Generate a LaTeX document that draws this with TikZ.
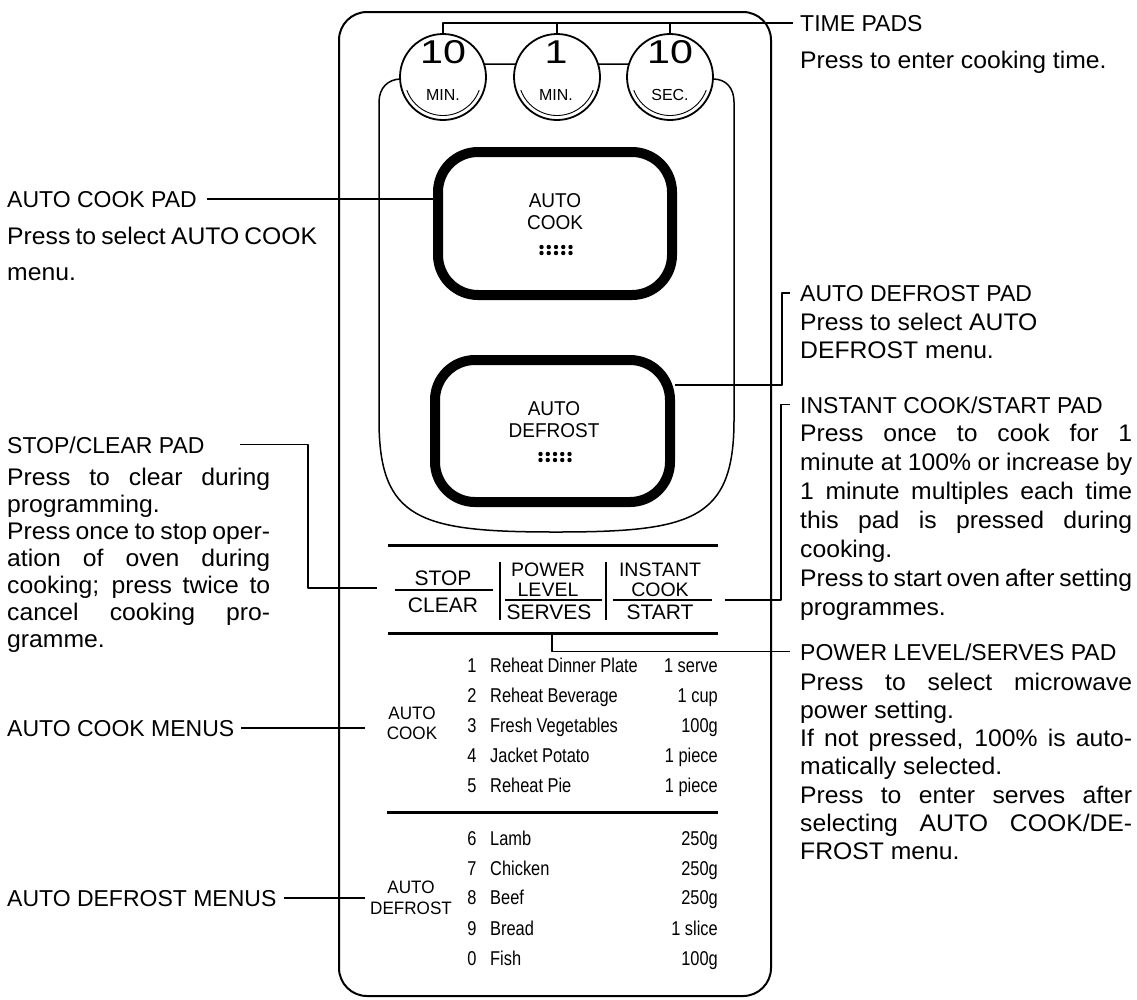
\documentclass[tikz,border=0pt]{standalone}
\usepackage{fontspec}
\setmainfont{Liberation Sans}
\newfontfamily\narrowfont[FakeStretch=0.82]{Liberation Sans}
\newfontfamily\padfont[FakeStretch=0.95]{Liberation Sans}
\newfontfamily\numfont[FakeStretch=1.25]{Liberation Sans}
\newfontfamily\wideLfont[FakeStretch=1.03]{Liberation Sans}
\usetikzlibrary{calc}
\newcommand\jln[1]{\hbox to\hsize{\rule{0pt}{18pt}#1}}
\newcommand\pln[1]{\hbox to\hsize{\rule{0pt}{18pt}#1\hfil}}
\newcommand\lblsize{\wideLfont\fontsize{24pt}{28.5pt}\selectfont}
\newcommand\headsize{\fontsize{23pt}{28.5pt}\selectfont}
\begin{document}
\begin{tikzpicture}[x=1pt,y=-1pt,line join=round,
 lbl/.style={inner sep=0pt,anchor=base west,font=\headsize},
 bodytxt/.style={inner sep=0pt,anchor=north west,font=\lblsize},
 leadline/.style={line width=1.3pt},
 rulebar/.style={line width=3pt},
 sepbar/.style={line width=2.5pt},
 fracline/.style={line width=1.4pt},
 btn/.style={inner sep=0pt,anchor=base,font=\fontsize{21pt}{21pt}\selectfont},
 btn2/.style={inner sep=0pt,anchor=north,align=center,font=\fontsize{19.5pt}{19.5pt}\selectfont},
 padtxt/.style={inner sep=0pt,anchor=base,font=\padfont\fontsize{20pt}{20pt}\selectfont},
 cattxt/.style={inner sep=0pt,anchor=base,font=\padfont\fontsize{18pt}{18pt}\selectfont},
 menutxt/.style={inner sep=0pt,font=\narrowfont\fontsize{20pt}{20pt}\selectfont},
 numtxt/.style={inner sep=0pt,anchor=base,font=\numfont\fontsize{33pt}{33pt}\selectfont},
 unittxt/.style={inner sep=0pt,anchor=base,font=\fontsize{16pt}{16pt}\selectfont},
 tcirc/.style={circle,draw,line width=1.8pt,fill=white,minimum size=86pt,inner sep=0pt},
 padbox/.style={draw,line width=10pt,rounded corners=40pt,fill=white,inner sep=0pt},
]
\useasboundingbox (0,0) rectangle (1137,999);
\fill[white] (0,0) rectangle (1137,999);

% outer panel
\node[draw,line width=2pt,rounded corners=28pt,minimum width=432pt,minimum height=984pt,inner sep=0pt] (panel) at (555,504) {};

% inner panel
\draw[line width=1.5pt,fill=white] (379,420) -- (379,102) .. controls (379,88) and (388,79) .. (401,79)
  -- (444,64) -- (670,64) -- (713,79) .. controls (726,79) and (734,88) .. (734,102)
  -- (734,420) .. controls (734,520) and (692,532) .. (556,532)
  .. controls (420,532) and (379,520) .. (379,420) -- cycle;

% pads
\node[padbox,minimum width=234pt,minimum height=143pt] (p1) at (555,223.5) {};
\node[padbox,minimum width=235pt,minimum height=142pt] (p2) at (552.5,431) {};
\node[padtxt] (p1a) at (555,207) {AUTO};
\node[padtxt] (p1b) at (555,229) {COOK};
\node[padtxt] (p2a) at (554,415) {AUTO};
\node[padtxt] (p2b) at (554,437) {DEFROST};
\foreach \dx in {-14.5,-7.25,0,7.25,14.5}{
  \foreach \dy in {-3,3}{
    \fill (556+\dx,250+\dy) circle[radius=2.2pt];
    \fill (555+\dx,457+\dy) circle[radius=2.2pt];
  }
}

% headings and texts
\node[lbl] (tp) at (800,31) {TIME PADS};
\node[bodytxt] (tpb) at (800,50) {\vbox{\hsize=332pt\baselineskip=28.5pt\pln{Press to enter cooking time.}}};
\node[lbl] (adp) at (800,301) {AUTO DEFROST PAD};
\node[bodytxt] (adpb) at (800,312) {\vbox{\hsize=332pt\baselineskip=28.5pt
  \pln{Press to select AUTO}\pln{DEFROST menu.}}};
\node[lbl] (icp) at (800,413) {INSTANT COOK/START PAD};
\node[bodytxt] (icpb) at (800,423) {\vbox{\hsize=332pt\baselineskip=29pt
  \jln{Press once to cook for 1}
  \jln{minute at 100\% or increase by}
  \jln{1 minute multiples each time}
  \jln{this pad is pressed during}
  \pln{cooking.}
  \jln{Press to start oven after setting}
  \pln{programmes.}}};
\node[lbl] (pls) at (800,660) {POWER LEVEL/SERVES PAD};
\node[bodytxt] (plsb) at (800,672) {\vbox{\hsize=332pt\baselineskip=28.2pt
  \jln{Press to select microwave}
  \pln{power setting.}
  \jln{If not pressed, 100\% is auto-}
  \pln{matically selected.}
  \jln{Press to enter serves after}
  \jln{selecting AUTO COOK/DE-}
  \pln{FROST menu.}}};

\node[lbl] (acp) at (7,207) {AUTO COOK PAD};
\node[bodytxt] (acpb) at (7,226) {\vbox{\hsize=310pt\baselineskip=36pt
  \pln{Press to select AUTO COOK}\pln{menu.}}};
\node[lbl] (scp) at (7,453) {STOP/CLEAR PAD};
\node[bodytxt] (scpb) at (7,467) {\vbox{\hsize=263pt\baselineskip=27pt
  \jln{Press to clear during}
  \pln{programming.}
  \jln{Press once to stop oper-}
  \jln{ation of oven during}
  \jln{cooking; press twice to}
  \jln{cancel cooking pro-}
  \pln{gramme.}}};
\node[lbl] (acm) at (7,736) {AUTO COOK MENUS};
\node[lbl] (adm) at (7,906) {AUTO DEFROST MENUS};

% leaders
\coordinate (scstart) at (240,0);
\coordinate (scbend) at (308,588);
\coordinate (scend) at (377,588);
\draw[leadline] (scp.east -| scstart) -| (scbend) -- (scend);
\draw[leadline] ($(acp.east)+(10,0)$) -- (acp.east -| p1.west);
\coordinate (mend) at (365,0);
\draw[leadline] ($(acm.east)+(7,0)$) -- (acm.east -| mend);
\draw[leadline] ($(adm.east)+(7,0)$) -- (adm.east -| mend);
\draw[leadline] ([yshift=46pt]p2.east) -| ($(adp.west)+(-18,0)$) -- ($(adp.west)+(-10,0)$);
\coordinate (icend) at (725,600);
\draw[leadline] (icend) -| ($(icp.west)+(-19,0)$) -- ($(icp.west)+(-10,0)$);
\coordinate (plstart) at (552,635);
\draw[leadline] (plstart) |- ($(pls.west)+(-10,0)$);

% time pads
\node[tcirc] (c1) at (443,77) {};
\node[tcirc] (c2) at (557,77) {};
\node[tcirc] (c3) at (670,77) {};
\foreach \c in {c1,c2,c3}{
  \draw[line width=0.9pt] ($(\c)+(20:38.5)$) arc[start angle=20,end angle=160,radius=38.5];
}
\draw[leadline] (c1.north) |- ($(tp.west)+(-7,0)$);
\draw[leadline] (c2.north) -- (c2.north |- tp.west);
\draw[leadline] (c3.north) -- (c3.north |- tp.west);
\node[numtxt] (c1n) at (443,63) {10};
\node[numtxt] (c2n) at (556,63) {1};
\node[numtxt] (c3n) at (670,63) {10};
\node[unittxt] (c1u) at (443,100) {MIN.};
\node[unittxt] (c2u) at (556,100) {MIN.};
\node[unittxt] (c3u) at (670,100) {SEC.};

% button row
\draw[rulebar] (388,545) -- (718,545);
\draw[rulebar] (388,633) -- (718,633);
\draw[rulebar] (387,812) -- (718,812);
\draw[sepbar] (500,562) -- (500,620);
\draw[sepbar] (606,562) -- (606,620);
\draw[fracline] (395,590) -- (493,590);
\draw[fracline] (505,600) -- (602,600);
\draw[fracline] (613,600) -- (712,600);
\node[btn] (bstop) at (443,585) {STOP};
\node[btn] (bclear) at (443,612) {CLEAR};
\node[btn2] (bpower) at (548,563) {POWER\\LEVEL};
\node[btn] (bserves) at (549,619.5) {SERVES};
\node[btn2] (binst) at (660,563) {INSTANT\\COOK};
\node[btn] (bstart) at (660,619.5) {START};

% menus
\node[cattxt] (lc1) at (412,719.5) {AUTO};
\node[cattxt] (lc2) at (412,739.5) {COOK};
\node[cattxt] (ld1) at (411,893.5) {AUTO};
\node[cattxt] (ld2) at (411,914.5) {DEFROST};
\foreach \k/\nm/\amt/\yy in {1/Reheat Dinner Plate/1 serve/672,2/Reheat Beverage/1 cup/702,3/Fresh Vegetables/100g/732,4/Jacket Potato/1 piece/762,5/Reheat Pie/1 piece/792,6/Lamb/250g/845,7/Chicken/250g/875,8/Beef/250g/904,9/Bread/1 slice/935,0/Fish/100g/965}{
  \node[menutxt,anchor=base] (mn\k) at (472,\yy) {\k};
  \node[menutxt,anchor=base west] (mi\k) at (490,\yy) {\nm};
  \node[menutxt,anchor=base east] (ma\k) at (718,\yy) {\amt};
}
\end{tikzpicture}
\end{document}
